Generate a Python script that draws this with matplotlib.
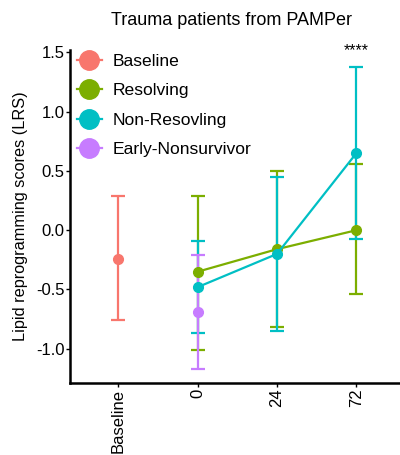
import matplotlib.pyplot as plt
from matplotlib.lines import Line2D

plt.rcParams['font.family'] = ['Liberation Sans', 'DejaVu Sans']

# x categories
tick_labels = ['Baseline', '0', '24', '72']

# group -> (x index, mean, upper, lower)
baseline_x = [0]
baseline_mean = [-0.24]
baseline_hi = [0.29]
baseline_lo = [-0.76]

resolving_x = [1, 2, 3]
resolving_mean = [-0.35, -0.16, 0.0]
resolving_hi = [0.29, 0.50, 0.56]
resolving_lo = [-1.01, -0.82, -0.54]

nonres_x = [1, 2, 3]
nonres_mean = [-0.48, -0.20, 0.65]
nonres_hi = [-0.09, 0.45, 1.38]
nonres_lo = [-0.87, -0.85, -0.07]

early_x = [1]
early_mean = [-0.69]
early_hi = [-0.21]
early_lo = [-1.17]

groups = [
    ('Baseline', '#F8766D', baseline_x, baseline_mean, baseline_hi, baseline_lo),
    ('Resolving', '#7CAE00', resolving_x, resolving_mean, resolving_hi, resolving_lo),
    ('Non-Resovling', '#00BFC4', nonres_x, nonres_mean, nonres_hi, nonres_lo),
    ('Early-Nonsurvivor', '#C77CFF', early_x, early_mean, early_hi, early_lo),
]

fig = plt.figure(figsize=(4, 4.55), dpi=100)
ax = fig.add_axes([0.175, 0.158, 0.825, 0.732])

handles = []
for name, color, xs, means, his, los in groups:
    yerr = [[m - l for m, l in zip(means, los)], [h - m for m, h in zip(means, his)]]
    ax.errorbar(xs, means, yerr=yerr, color=color, lw=1.6, marker='o', ms=7,
                capsize=5, capthick=1.6, elinewidth=1.6)
    handles.append(Line2D([], [], color=color, lw=1.6, marker='o', ms=14))

# significance marker above the 72 h group
ax.text(3, 1.45, '****', ha='center', va='bottom', fontsize=11.5)

ax.set_xlim(-0.61, 3.55)
ax.set_ylim(-1.29, 1.52)
ax.set_xticks(range(len(tick_labels)))
ax.set_xticklabels(tick_labels, rotation=90, fontsize=12)
ax.set_yticks([-1.0, -0.5, 0.0, 0.5, 1.0, 1.5])
ax.set_yticklabels(['-1.0', '-0.5', '0.0', '0.5', '1.0', '1.5'], fontsize=12)
ax.tick_params(length=3, width=1, pad=1)
for s in ['top', 'right']:
    ax.spines[s].set_visible(False)
for s in ['left', 'bottom']:
    ax.spines[s].set_linewidth(1.8)

ax.set_ylabel('Lipid reprogramming scores (LRS)', fontsize=11.7, labelpad=6)
fig.text(0.58, 0.955, 'Trauma patients from PAMPer', ha='center', va='center', fontsize=13)

ax.legend(handles, [g[0] for g in groups], loc='upper left', bbox_to_anchor=(-0.01, 1.02),
          frameon=False, fontsize=12.6, handlelength=1.4, handletextpad=0.6, labelspacing=0.8,
          borderaxespad=0.2)

fig.savefig('out.png', dpi=100)
